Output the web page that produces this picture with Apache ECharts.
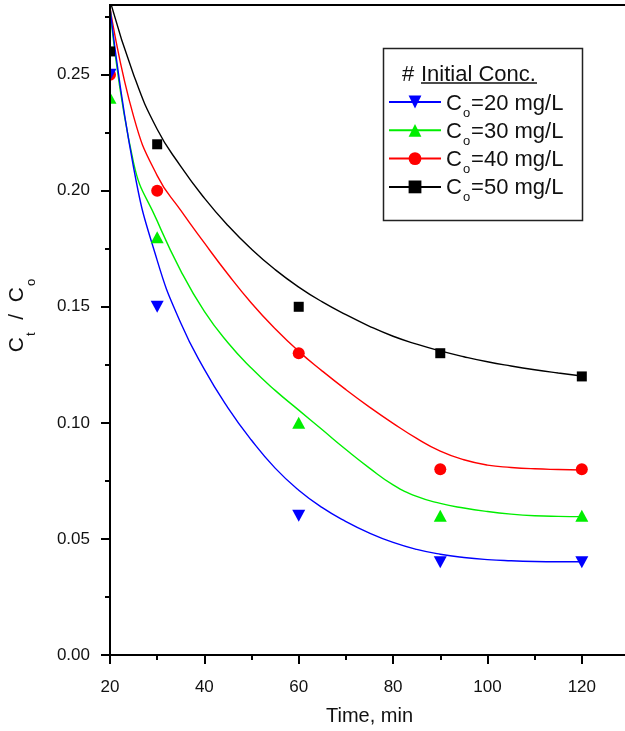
<!DOCTYPE html>
<html>
<head>
<meta charset="utf-8">
<script src="https://cdn.jsdelivr.net/npm/echarts@6/dist/echarts.min.js"></script>
<style>
  html, body { margin: 0; padding: 0; background: #fff; }
  #chart { width: 625px; height: 731px; }
</style>
</head>
<body>
<div id="chart"></div>
<script>
// measured points (time in min, Ct/Co)
const timeMin = [20, 30, 60, 90, 120];
const ratio20 = [0.25, 0.15, 0.06, 0.04, 0.04];
const ratio30 = [0.24, 0.18, 0.10, 0.06, 0.06];
const ratio40 = [0.25, 0.20, 0.13, 0.08, 0.08];
const ratio50 = [0.26, 0.22, 0.15, 0.13, 0.12];

// fitted curves, every 5 min
const fitTime = [20, 25, 30, 35, 40, 45, 50, 55, 60, 65, 70, 75, 80, 85, 90, 95, 100, 105, 110, 115, 120];
const fit20 = [0.279, 0.210, 0.170, 0.143, 0.123, 0.1065, 0.0925, 0.0805, 0.071, 0.0635, 0.0575, 0.0525, 0.0485, 0.0455, 0.0434, 0.042, 0.0411, 0.0406, 0.0403, 0.0402, 0.0402];
const fit30 = [0.279, 0.212, 0.187, 0.1655, 0.148, 0.1345, 0.1235, 0.114, 0.1055, 0.097, 0.0885, 0.0805, 0.0733, 0.0683, 0.0653, 0.0633, 0.0618, 0.0607, 0.060, 0.0597, 0.0596];
const fit40 = [0.279, 0.232, 0.2065, 0.1915, 0.1775, 0.164, 0.1515, 0.1405, 0.1308, 0.1223, 0.1143, 0.1068, 0.0998, 0.0933, 0.0878, 0.0841, 0.0818, 0.0808, 0.0802, 0.0799, 0.0797];
const fit50 = [0.282, 0.250, 0.2265, 0.2105, 0.1968, 0.185, 0.1748, 0.166, 0.1585, 0.1521, 0.1466, 0.1416, 0.1373, 0.1339, 0.131, 0.1285, 0.1263, 0.1245, 0.1229, 0.1215, 0.1202];

const legendNames = ["Co=20 mg/L", "Co=30 mg/L", "Co=40 mg/L", "Co=50 mg/L"];

const xMajorTicks = [20, 40, 60, 80, 100, 120];
const xMinorTicks = [30, 50, 70, 90, 110];
const yMajorTicks = [0, 0.05, 0.1, 0.15, 0.2, 0.25];
const yMinorTicks = [0.025, 0.075, 0.125, 0.175, 0.225, 0.275];

const FONT = "'Liberation Sans', Arial, Helvetica, sans-serif";

const looks = [
  { color: "#0000ff", symbol: "triangle", rotate: 180, size: [13, 12] },
  { color: "#00ee00", symbol: "triangle", rotate: 0, size: [13, 12] },
  { color: "#ff0000", symbol: "circle", rotate: 0, size: 12 },
  { color: "#000000", symbol: "rect", rotate: 0, size: 10 },
];
const pointSets = [ratio20, ratio30, ratio40, ratio50];
const fitSets = [fit20, fit30, fit40, fit50];

const series = [];
// curves first, markers on top (blue last so it sits above red at t=20)
for (let i = 3; i >= 0; i--) {
  series.push({
    name: legendNames[i],
    type: "line",
    data: fitTime.map((t, j) => [t, fitSets[i][j]]),
    smooth: 0.5,
    showSymbol: false,
    symbol: looks[i].symbol,
    symbolRotate: looks[i].rotate,
    lineStyle: { color: looks[i].color, width: 1.4 },
    itemStyle: { color: looks[i].color },
    clip: true,
    silent: true,
    z: 2,
  });
}
for (let i = 3; i >= 0; i--) {
  series.push({
    name: "pts" + i,
    type: "scatter",
    data: timeMin.map((t, j) => [t, pointSets[i][j]]),
    symbol: looks[i].symbol,
    symbolRotate: looks[i].rotate,
    symbolSize: looks[i].size,
    itemStyle: { color: looks[i].color, opacity: 1 },
    silent: true,
    z: 3,
  });
}

const axisLine = { show: true, onZero: false, lineStyle: { color: "#000", width: 2 } };
const tickStyle = { width: 2, color: "#000" };

// C with a low subscript, used by the legend and the y title
function subRich(big, small, pad, lh) {
  return {
    sp: { width: 30 },
    c: { fontSize: big, lineHeight: lh, padding: [pad, 0, 0, 0], verticalAlign: "top", fontFamily: FONT, color: "#111" },
    s: { fontSize: small, lineHeight: lh, padding: [0, 1, 0, 1], verticalAlign: "bottom", fontFamily: FONT, color: "#111" },
  };
}

const option = {
  animation: false,
  backgroundColor: "#fff",
  textStyle: { fontFamily: FONT },
  grid: {
    left: 110,
    right: -4,
    top: 5,
    bottom: 76,
    outerBoundsMode: "none",
    containLabel: false,
    show: true,
    borderColor: "#000",
    borderWidth: 2,
    backgroundColor: "transparent",
  },
  xAxis: [
    {
      type: "value",
      min: 20,
      max: 130,
      z: 10,
      axisLine: axisLine,
      axisTick: { show: true, length: 9, lineStyle: tickStyle, customValues: xMajorTicks },
      axisLabel: { customValues: xMajorTicks, margin: 24, fontSize: 17, color: "#111", fontFamily: FONT },
      splitLine: { show: false },
      name: "Time, min",
      nameLocation: "middle",
      nameGap: 51,
      nameTextStyle: { fontSize: 20, color: "#111", fontFamily: FONT },
    },
    {
      type: "value",
      min: 20,
      max: 130,
      z: 10,
      position: "bottom",
      axisLine: { show: false },
      axisTick: { show: true, length: 5, lineStyle: tickStyle, customValues: xMinorTicks },
      axisLabel: { show: false },
      splitLine: { show: false },
    },
  ],
  yAxis: [
    {
      type: "value",
      min: 0,
      max: 0.28,
      z: 10,
      axisLine: axisLine,
      axisTick: { show: true, length: 9, lineStyle: tickStyle, customValues: yMajorTicks },
      axisLabel: {
        customValues: yMajorTicks,
        margin: 20,
        fontSize: 17,
        color: "#111",
        fontFamily: FONT,
        formatter: (v) => v.toFixed(2),
      },
      splitLine: { show: false },
      name: "{sp|}{c|C}{s|t}{c|  /  C}{s|o}",
      nameLocation: "middle",
      nameRotate: 90,
      nameGap: 72,
      nameTextStyle: { color: "#111", fontFamily: FONT, rich: subRich(21, 13, 3, 34) },
    },
    {
      type: "value",
      min: 0,
      max: 0.28,
      z: 10,
      position: "left",
      axisLine: { show: false },
      axisTick: { show: true, length: 5, lineStyle: tickStyle, customValues: yMinorTicks },
      axisLabel: { show: false },
      splitLine: { show: false },
    },
  ],
  legend: {
    data: legendNames,
    orient: "vertical",
    left: 388,
    top: 84.5,
    padding: 0,
    itemGap: -6.7,
    itemWidth: 52,
    itemHeight: 16,
    selectedMode: false,
    formatter: (name) => "{c|C}{s|o}{c|" + name.slice(2) + "}",
    textStyle: { color: "#111", fontFamily: FONT, rich: subRich(22, 13, 8, 35) },
  },
  graphic: [
    // hides marker halves that fall left of the y axis (outside the frame)
    { type: "rect", z: 5, silent: true, shape: { x: 0, y: 0, width: 109, height: 731 }, style: { fill: "#fff" } },
    { type: "rect", z: 5, silent: true, shape: { x: 383.5, y: 48.5, width: 199, height: 172 }, style: { fill: "none", stroke: "#222", lineWidth: 1.5 } },
    { type: "text", z: 6, silent: true, x: 402, y: 75, style: { text: "#", font: "22px " + FONT, fill: "#111", verticalAlign: "middle" } },
    { type: "text", z: 6, silent: true, x: 421, y: 75, style: { text: "Initial Conc.", font: "22px " + FONT, fill: "#111", verticalAlign: "middle" } },
    { type: "line", z: 6, silent: true, shape: { x1: 421, y1: 83, x2: 537, y2: 83 }, style: { stroke: "#111", lineWidth: 1.5 } },
  ],
  series: series,
};

const chart = echarts.init(document.getElementById("chart"));
chart.setOption(option);
</script>
</body>
</html>
